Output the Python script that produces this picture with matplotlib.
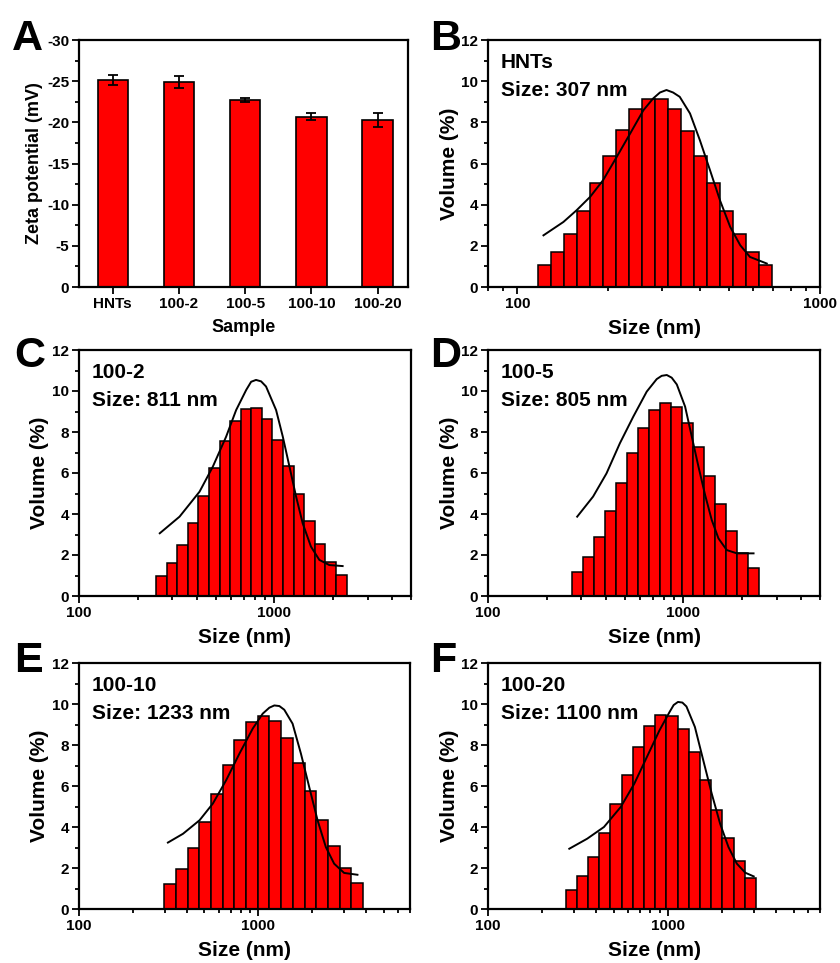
import numpy as np
import matplotlib
matplotlib.use("Agg")
import matplotlib.pyplot as plt
from matplotlib.ticker import FixedLocator, NullFormatter, MultipleLocator, LogLocator

plt.rcParams['font.family'] = ['Liberation Sans', 'DejaVu Sans']
plt.rcParams['font.weight'] = 'bold'
plt.rcParams['axes.unicode_minus'] = False

# ---------------- data ----------------
zeta_samples = ['HNTs', '100-2', '100-5', '100-10', '100-20']
zeta_values = [-25.1, -24.9, -22.7, -20.7, -20.3]
zeta_errors = [0.6, 0.75, 0.28, 0.45, 0.85]
zeta_yticks = [0, -5, -10, -15, -20, -25, -30]

size_ticks = [100, 1000]
size_ticklabels = ['100', '1000']
volume_ticks = [0, 2, 4, 6, 8, 10, 12]

hnts_bin_range = (117, 692)
hnts_volume = [1.05, 1.70, 2.59, 3.70, 5.03, 6.37, 7.62, 8.63, 9.13, 9.13,
               8.63, 7.59, 6.37, 5.03, 3.70, 2.56, 1.70, 1.05]
hnts_fit_size = [122, 142, 157, 174, 192, 213, 236, 261, 281, 296, 311, 327, 344,
                 372, 401, 433, 467, 505, 545, 587, 667]
hnts_fit_volume = [2.51, 3.16, 3.73, 4.38, 5.19, 6.32, 7.46, 8.59, 9.16, 9.45, 9.57,
                   9.45, 9.24, 8.43, 7.13, 5.68, 4.22, 2.92, 2.03, 1.46, 1.14]

s2_bin_range = (248, 2339)
s2_volume = [0.98, 1.59, 2.47, 3.58, 4.88, 6.26, 7.56, 8.55, 9.12, 9.15,
             8.63, 7.61, 6.36, 4.98, 3.66, 2.52, 1.64, 1.02]
s2_fit_size = [259, 327, 414, 484, 566, 637, 717, 760, 805, 855, 906, 1020, 1104,
               1194, 1291, 1396, 1538, 1698, 1909, 2234]
s2_fit_volume = [3.06, 3.87, 5.09, 6.31, 7.77, 9.07, 10.05, 10.45, 10.54, 10.47,
                 10.22, 9.07, 7.77, 6.31, 4.85, 3.54, 2.41, 1.76, 1.51, 1.46]

s5_bin_range = (270, 2427)
s5_volume = [1.19, 1.89, 2.89, 4.15, 5.53, 6.96, 8.21, 9.07, 9.43, 9.24,
             8.46, 7.28, 5.87, 4.47, 3.17, 2.08, 1.35]
s5_fit_size = [286, 345, 404, 473, 554, 649, 730, 774, 822, 871, 925, 1020, 1104,
               1194, 1291, 1396, 1511, 1667, 1878, 2285]
s5_fit_volume = [3.87, 4.85, 5.98, 7.45, 8.75, 9.97, 10.58, 10.74, 10.78, 10.65,
                 10.32, 9.24, 7.77, 6.31, 4.93, 3.71, 2.81, 2.24, 2.08, 2.08]

s10_bin_range = (299, 3828)
s10_volume = [1.20, 1.97, 2.98, 4.24, 5.63, 7.01, 8.26, 9.12, 9.41, 9.15,
              8.34, 7.14, 5.74, 4.33, 3.06, 2.02, 1.27]
s10_fit_size = [313, 380, 470, 557, 661, 784, 930, 1057, 1151, 1227, 1309, 1394,
                1551, 1726, 1920, 2137, 2377, 2644, 3004, 3566]
s10_fit_volume = [3.24, 3.67, 4.33, 5.14, 6.28, 7.58, 8.80, 9.53, 9.82, 9.93, 9.90,
                  9.72, 9.04, 7.58, 5.95, 4.33, 3.02, 2.21, 1.76, 1.67]

s20_bin_range = (270, 3090)
s20_volume = [0.94, 1.59, 2.54, 3.71, 5.11, 6.55, 7.90, 8.93, 9.48, 9.41,
              8.80, 7.66, 6.28, 4.81, 3.46, 2.34, 1.50]
s20_fit_size = [283, 356, 441, 547, 650, 772, 898, 1021, 1076, 1137, 1203, 1267,
                1412, 1572, 1751, 1950, 2170, 2416, 2690, 2997]
s20_fit_volume = [2.94, 3.43, 4.00, 4.98, 6.11, 7.50, 8.72, 9.61, 9.95, 10.10,
                  10.07, 9.88, 8.88, 7.25, 5.63, 4.16, 3.02, 2.21, 1.77, 1.59]

# ---------------- figure ----------------
W, H = 840, 963
fig = plt.figure(figsize=(W / 100, H / 100), dpi=100)


def px_axes(left, right, top, bottom):
    return fig.add_axes([left / W, 1 - bottom / H, (right - left) / W, (bottom - top) / H])


RED = '#ff0000'
TICK_FS = 11
LAB_FS = 15
SPINE_LW = 1.6


def style(ax):
    for s in ax.spines.values():
        s.set_linewidth(SPINE_LW)
    ax.tick_params(which='both', direction='out', top=False, right=False,
                   width=1.3, labelsize=TICK_FS, pad=2)
    ax.tick_params(which='major', length=5)
    ax.tick_params(which='minor', length=3)
    for lab in ax.get_xticklabels() + ax.get_yticklabels():
        lab.set_fontweight('bold')


# Panel A
axA = px_axes(79, 408, 40, 287)
xA = np.arange(len(zeta_samples))
axA.bar(xA, zeta_values, width=0.46, color=RED, edgecolor='black', linewidth=1.2,
        yerr=zeta_errors, capsize=3.5,
        error_kw=dict(elinewidth=1.3, capthick=1.3, ecolor='black'))
axA.set_xlim(-0.51, 4.46)
axA.set_ylim(0, -30)
axA.set_yticks(zeta_yticks)
axA.yaxis.set_minor_locator(MultipleLocator(2.5))
axA.set_xticks(xA)
axA.set_xticklabels(zeta_samples)
axA.set_ylabel('Zeta potential (mV)', fontsize=13, fontweight='bold', labelpad=3)
axA.set_xlabel('Sample', fontsize=13, fontweight='bold', labelpad=6)
style(axA)


def dist_panel(ax, bin_range, vols, fit_x, fit_y, xlim, name, size_txt):
    n = len(vols)
    edges = np.geomspace(bin_range[0], bin_range[1], n + 1)
    ax.bar(edges[:-1], vols, width=np.diff(edges), align='edge', color=RED,
           edgecolor='black', linewidth=1.1, zorder=2)
    ax.plot(fit_x, fit_y, color='black', linewidth=1.4, zorder=3,
            solid_joinstyle='round')
    ax.set_xscale('log')
    ax.set_xlim(*xlim)
    ax.set_ylim(0, 12)
    ax.xaxis.set_major_locator(FixedLocator(size_ticks))
    ax.set_xticklabels(size_ticklabels)
    ax.xaxis.set_minor_locator(LogLocator(base=10, subs=np.arange(2, 10)))
    ax.xaxis.set_minor_formatter(NullFormatter())
    ax.set_yticks(volume_ticks)
    ax.yaxis.set_minor_locator(MultipleLocator(1))
    ax.set_xlabel('Size (nm)', fontsize=LAB_FS, fontweight='bold', labelpad=6)
    ax.set_ylabel('Volume (%)', fontsize=LAB_FS, fontweight='bold', labelpad=2)
    ax.text(0.038, 0.887, name, transform=ax.transAxes, fontsize=LAB_FS,
            fontweight='bold', va='baseline', ha='left')
    ax.text(0.038, 0.774, size_txt, transform=ax.transAxes, fontsize=LAB_FS,
            fontweight='bold', va='baseline', ha='left')
    style(ax)


axB = px_axes(488, 820, 40, 287)
dist_panel(axB, hnts_bin_range, hnts_volume, hnts_fit_size, hnts_fit_volume,
           (80, 1000), 'HNTs', 'Size: 307 nm')
axC = px_axes(79, 411, 350, 596)
dist_panel(axC, s2_bin_range, s2_volume, s2_fit_size, s2_fit_volume,
           (100, 5000), '100-2', 'Size: 811 nm')
axD = px_axes(488, 820, 350, 596)
dist_panel(axD, s5_bin_range, s5_volume, s5_fit_size, s5_fit_volume,
           (100, 5000), '100-5', 'Size: 805 nm')
axE = px_axes(79, 410, 663, 909)
dist_panel(axE, s10_bin_range, s10_volume, s10_fit_size, s10_fit_volume,
           (100, 7000), '100-10', 'Size: 1233 nm')
axF = px_axes(488, 820, 663, 909)
dist_panel(axF, s20_bin_range, s20_volume, s20_fit_size, s20_fit_volume,
           (100, 7000), '100-20', 'Size: 1100 nm')

# panel letters
for letter, x, base in [('A', 12, 50), ('B', 430, 50), ('C', 14, 367),
                        ('D', 430, 367), ('E', 14, 672), ('F', 430, 672)]:
    fig.text(x / W, 1 - base / H, letter, fontsize=31, fontweight='bold',
             va='baseline', ha='left')

fig.savefig('out.png', dpi=100)
